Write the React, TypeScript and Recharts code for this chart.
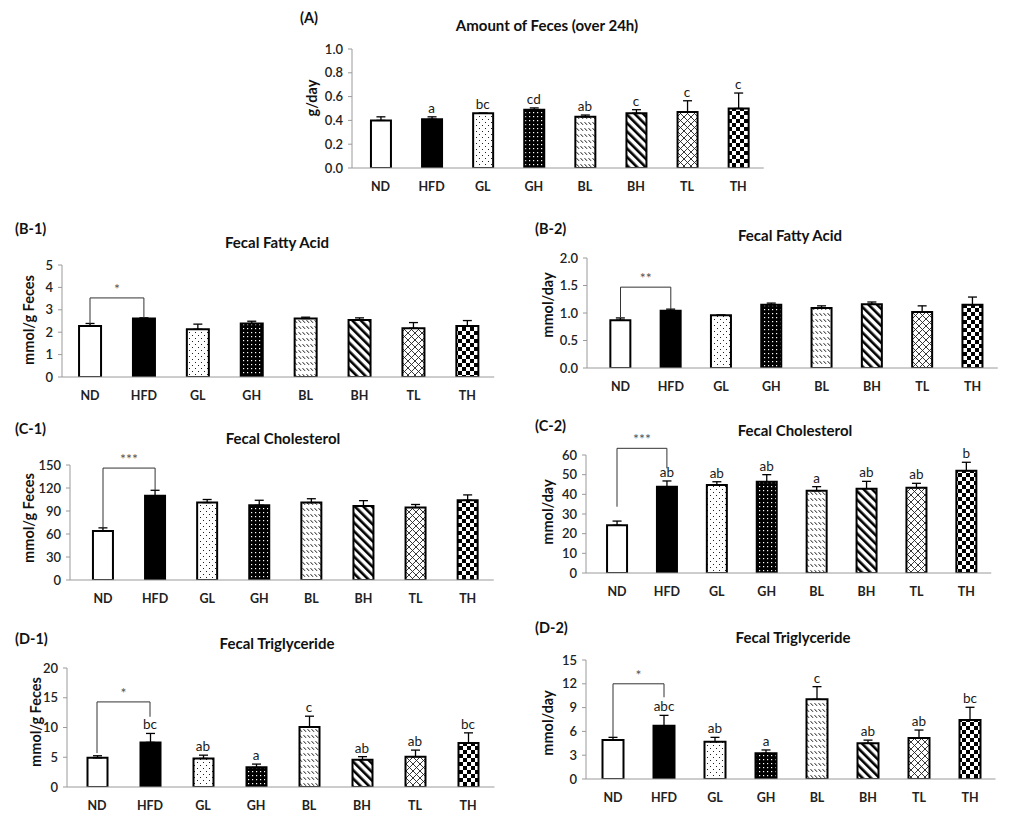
import React from 'react';
import { ComposedChart, Bar, Line, XAxis, YAxis, ErrorBar, LabelList, ReferenceLine, Cell } from 'recharts';

const groups = ['ND', 'HFD', 'GL', 'GH', 'BL', 'BH', 'TL', 'TH'];
const fillKeys = ['white', 'black', 'gl', 'gh', 'bl', 'bh', 'tl', 'th'];

// (A) Amount of feces
const aValues = [0.40, 0.41, 0.46, 0.49, 0.43, 0.46, 0.47, 0.50];
const aErrors = [0.03, 0.02, 0.0, 0.015, 0.015, 0.03, 0.095, 0.13];
const aLetters = ['', 'a', 'bc', 'cd', 'ab', 'c', 'c', 'c'];
const aTicks = [0, 0.2, 0.4, 0.6, 0.8, 1.0];

// (B-1) Fecal fatty acid, mmol/g feces
const b1Values = [2.28, 2.61, 2.13, 2.39, 2.61, 2.55, 2.18, 2.28];
const b1Errors = [0.11, 0.03, 0.23, 0.1, 0.06, 0.09, 0.25, 0.24];
const b1Letters = ['', '', '', '', '', '', '', ''];
const b1Ticks = [0, 1, 2, 3, 4, 5];
const b1Bracket = [3.53, 2.32, 2.63];
const b1Mark = '*';

// (B-2) Fecal fatty acid, mmol/day
const b2Values = [0.87, 1.04, 0.96, 1.15, 1.09, 1.16, 1.02, 1.15];
const b2Errors = [0.04, 0.03, 0.0, 0.03, 0.04, 0.04, 0.11, 0.14];
const b2Letters = ['', '', '', '', '', '', '', ''];
const b2Ticks = [0, 0.5, 1.0, 1.5, 2.0];
const b2Bracket = [1.47, 0.92, 1.07];
const b2Mark = '**';

// (C-1) Fecal cholesterol, mmol/g feces
const c1Values = [64, 110, 101, 97.5, 101, 96.5, 94.5, 104];
const c1Errors = [4, 7, 4, 6.5, 5, 7, 4, 7];
const c1Letters = ['', '', '', '', '', '', '', ''];
const c1Ticks = [0, 30, 60, 90, 120, 150];
const c1Bracket = [146, 68, 117];
const c1Mark = '***';

// (C-2) Fecal cholesterol, mmol/day
const c2Values = [24.3, 43.9, 44.7, 46.4, 41.8, 42.9, 43.4, 52.0];
const c2Errors = [2.1, 2.9, 1.7, 3.6, 2.1, 3.7, 2.2, 4.3];
const c2Letters = ['', 'ab', 'ab', 'ab', 'a', 'ab', 'ab', 'b'];
const c2Ticks = [0, 10, 20, 30, 40, 50, 60];
const c2Bracket = [63.4, 33.7, 53.2];
const c2Mark = '***';

// (D-1) Fecal triglyceride, mmol/g feces
const d1Values = [4.9, 7.5, 4.8, 3.3, 10.1, 4.6, 5.1, 7.4];
const d1Errors = [0.35, 1.5, 0.55, 0.55, 1.8, 0.5, 1.1, 1.7];
const d1Letters = ['', 'bc', 'ab', 'a', 'c', 'ab', 'ab', 'bc'];
const d1Ticks = [0, 5, 10, 15, 20];
const d1Bracket = [14.3, 5.7, 11.8];
const d1Mark = '*';

// (D-2) Fecal triglyceride, mmol/day
const d2Values = [4.92, 6.72, 4.7, 3.24, 10.04, 4.5, 5.17, 7.44];
const d2Errors = [0.33, 1.3, 0.55, 0.42, 1.6, 0.4, 1.0, 1.6];
const d2Letters = ['', 'abc', 'ab', 'a', 'c', 'ab', 'ab', 'bc'];
const d2Ticks = [0, 3, 6, 9, 12, 15];
const d2Bracket = [12.0, 5.3, 10.3];
const d2Mark = '*';

const FONT = 'Lato, "Open Sans", "Noto Sans", sans-serif';

function Patterns({ pid }: { pid: string }) {
  return (
    <defs>
      <pattern id={`${pid}-gl`} width={6} height={6} patternUnits="userSpaceOnUse">
        <rect width={6} height={6} fill="#fff" />
        <rect x={1} y={1} width={1} height={1} fill="#222" />
        <rect x={4} y={4} width={1} height={1} fill="#222" />
      </pattern>
      <pattern id={`${pid}-gh`} width={4} height={4} patternUnits="userSpaceOnUse">
        <rect width={4} height={4} fill="#000" />
        <rect x={1} y={1} width={1.2} height={1.2} fill="#fff" />
      </pattern>
      <pattern id={`${pid}-bl`} width={4} height={6} patternUnits="userSpaceOnUse">
        <rect width={4} height={6} fill="#fff" />
        <line x1={0.6} y1={1.2} x2={3} y2={3.8} stroke="#111" strokeWidth={1} />
      </pattern>
      <pattern id={`${pid}-bh`} width={6} height={6} patternUnits="userSpaceOnUse" patternTransform="rotate(-45)">
        <rect width={6} height={6} fill="#fff" />
        <rect width={2.6} height={6} fill="#000" />
      </pattern>
      <pattern id={`${pid}-tl`} width={7} height={7} patternUnits="userSpaceOnUse">
        <rect width={7} height={7} fill="#fff" />
        <path d="M0,0 L7,7 M7,0 L0,7" stroke="#222" strokeWidth={0.9} />
      </pattern>
      <pattern id={`${pid}-th`} width={8} height={8} patternUnits="userSpaceOnUse">
        <rect width={8} height={8} fill="#fff" />
        <rect width={4} height={4} fill="#000" />
        <rect x={4} y={4} width={4} height={4} fill="#000" />
      </pattern>
    </defs>
  );
}

function fillFor(pid: string, key: string) {
  if (key === 'white') return '#fff';
  if (key === 'black') return '#000';
  return `url(#${pid}-${key})`;
}

type PanelCfg = {
  pid: string;
  axisX: number;
  firstCenter: number;
  spacing: number;
  top: number;
  bottom: number;
  barSize: number;
  values: number[];
  errors: number[];
  letters: string[];
  ticks: number[];
  decimals: number;
  ylabel: string;
  ylabelX: number;
  ylabelY: number;
  title: string;
  titleX: number;
  titleY: number;
  tag: string;
  tagX: number;
  tagY: number;
  bracket?: number[];
  mark?: string;
};

function Panel({ cfg }: { cfg: PanelCfg }) {
  const YW = 60, MT = 30, XH = 34, MR = 8;
  const padLeft = cfg.firstCenter - cfg.spacing / 2 - cfg.axisX;
  const plotW = padLeft + 8 * cfg.spacing;
  const plotH = cfg.bottom - cfg.top;
  const data = groups.map((g, i) => ({
    name: g,
    value: cfg.values[i],
    err: [0, cfg.errors[i]],
    top: cfg.values[i] + cfg.errors[i],
    letter: cfg.letters[i],
  }));
  const max = cfg.ticks[cfg.ticks.length - 1];
  const b = cfg.bracket;
  return (
    <>
      <div style={{ position: 'absolute', left: cfg.axisX - YW, top: cfg.top - MT }}>
        <ComposedChart
          width={YW + plotW + MR}
          height={MT + plotH + XH}
          data={data}
          margin={{ top: MT, right: MR, bottom: 0, left: 0 }}
        >
          <Patterns pid={cfg.pid} />
          <XAxis
            dataKey="name"
            interval={0}
            tickLine={false}
            axisLine={{ stroke: '#9a9a9a' }}
            padding={{ left: padLeft, right: 0 }}
            height={XH}
            tickMargin={8}
            tick={{ fontSize: 12.5, fontWeight: 700, fill: '#222', fontFamily: FONT }}
          />
          <YAxis
            width={YW}
            domain={[0, max]}
            ticks={cfg.ticks}
            interval={0}
            allowDataOverflow
            tickSize={4}
            tickMargin={5}
            axisLine={{ stroke: '#9a9a9a' }}
            tickLine={{ stroke: '#9a9a9a' }}
            tickFormatter={(v: number) => v.toFixed(cfg.decimals)}
            tick={{ fontSize: 13, fontWeight: 600, fill: '#222', fontFamily: FONT }}
          />
          <Bar dataKey="value" barSize={cfg.barSize} stroke="#000" strokeWidth={2} isAnimationActive={false}>
            {data.map((d, i) => (
              <Cell key={d.name} fill={fillFor(cfg.pid, fillKeys[i])} />
            ))}
            <ErrorBar dataKey="err" width={4.5} stroke="#000" strokeWidth={1.3} direction="y" />
          </Bar>
          <Line
            dataKey="top"
            stroke="none"
            dot={false}
            activeDot={false}
            isAnimationActive={false}
            legendType="none"
          >
            <LabelList
              dataKey="letter"
              position="top"
              offset={4}
              style={{ fontSize: 13.5, fill: '#1a1a1a', fontFamily: FONT }}
            />
          </Line>
          {b && (
            <ReferenceLine
              segment={[{ x: 'ND', y: b[0] }, { x: 'HFD', y: b[0] }]}
              stroke="#333"
              strokeWidth={1}
              ifOverflow="visible"
              label={{ value: cfg.mark, position: 'top', offset: 4, fontSize: 14, fill: '#555', fontFamily: FONT }}
            />
          )}
          {b && (
            <ReferenceLine
              segment={[{ x: 'ND', y: b[1] }, { x: 'ND', y: b[0] }]}
              stroke="#333"
              strokeWidth={1}
              ifOverflow="visible"
            />
          )}
          {b && (
            <ReferenceLine
              segment={[{ x: 'HFD', y: b[2] }, { x: 'HFD', y: b[0] }]}
              stroke="#333"
              strokeWidth={1}
              ifOverflow="visible"
            />
          )}
        </ComposedChart>
      </div>
      <div
        style={{
          position: 'absolute',
          left: cfg.titleX,
          top: cfg.titleY,
          transform: 'translate(-50%, -50%)',
          whiteSpace: 'nowrap',
          fontFamily: FONT,
          fontWeight: 700,
          fontSize: 15,
          color: '#111',
        }}
      >
        {cfg.title}
      </div>
      <div
        style={{
          position: 'absolute',
          left: cfg.tagX,
          top: cfg.tagY,
          transform: 'translate(0, -50%)',
          whiteSpace: 'nowrap',
          fontFamily: FONT,
          fontWeight: 700,
          fontSize: 14.5,
          color: '#111',
        }}
      >
        {cfg.tag}
      </div>
      <div
        style={{
          position: 'absolute',
          left: cfg.ylabelX,
          top: cfg.ylabelY,
          transform: 'translate(-50%, -50%) rotate(-90deg)',
          whiteSpace: 'nowrap',
          fontFamily: FONT,
          fontWeight: 700,
          fontSize: 14.5,
          color: '#111',
        }}
      >
        {cfg.ylabel}
      </div>
    </>
  );
}

const panels: PanelCfg[] = [
  {
    pid: 'pa', axisX: 352, firstCenter: 380.5, spacing: 51.1, top: 49, bottom: 168, barSize: 20,
    values: aValues, errors: aErrors, letters: aLetters, ticks: aTicks, decimals: 1,
    ylabel: 'g/day', ylabelX: 311, ylabelY: 98,
    title: 'Amount of Feces (over 24h)', titleX: 547, titleY: 25, tag: '(A)', tagX: 300, tagY: 17,
  },
  {
    pid: 'pb1', axisX: 62, firstCenter: 90, spacing: 53.9, top: 265, bottom: 377, barSize: 22,
    values: b1Values, errors: b1Errors, letters: b1Letters, ticks: b1Ticks, decimals: 0,
    ylabel: 'mmol/g Feces', ylabelX: 28, ylabelY: 320,
    title: 'Fecal Fatty Acid', titleX: 277, titleY: 242, tag: '(B-1)', tagX: 15, tagY: 228,
    bracket: b1Bracket, mark: b1Mark,
  },
  {
    pid: 'pb2', axisX: 587, firstCenter: 620.5, spacing: 50.3, top: 258, bottom: 368, barSize: 20,
    values: b2Values, errors: b2Errors, letters: b2Letters, ticks: b2Ticks, decimals: 1,
    ylabel: 'mmol/day', ylabelX: 547, ylabelY: 305,
    title: 'Fecal Fatty Acid', titleX: 790, titleY: 235, tag: '(B-2)', tagX: 535, tagY: 228,
    bracket: b2Bracket, mark: b2Mark,
  },
  {
    pid: 'pc1', axisX: 70, firstCenter: 103, spacing: 52.1, top: 465, bottom: 580, barSize: 20,
    values: c1Values, errors: c1Errors, letters: c1Letters, ticks: c1Ticks, decimals: 0,
    ylabel: 'mmol/g Feces', ylabelX: 28, ylabelY: 518,
    title: 'Fecal Cholesterol', titleX: 283, titleY: 438, tag: '(C-1)', tagX: 15, tagY: 428,
    bracket: c1Bracket, mark: c1Mark,
  },
  {
    pid: 'pc2', axisX: 586, firstCenter: 617, spacing: 49.9, top: 455, bottom: 573, barSize: 20,
    values: c2Values, errors: c2Errors, letters: c2Letters, ticks: c2Ticks, decimals: 0,
    ylabel: 'mmol/day', ylabelX: 547, ylabelY: 512,
    title: 'Fecal Cholesterol', titleX: 795, titleY: 430, tag: '(C-2)', tagX: 535, tagY: 425,
    bracket: c2Bracket, mark: c2Mark,
  },
  {
    pid: 'pd1', axisX: 67, firstCenter: 97, spacing: 53, top: 668, bottom: 787, barSize: 20,
    values: d1Values, errors: d1Errors, letters: d1Letters, ticks: d1Ticks, decimals: 0,
    ylabel: 'mmol/g Feces', ylabelX: 35, ylabelY: 722,
    title: 'Fecal Triglyceride', titleX: 277, titleY: 643, tag: '(D-1)', tagX: 15, tagY: 638,
    bracket: d1Bracket, mark: d1Mark,
  },
  {
    pid: 'pd2', axisX: 586, firstCenter: 613, spacing: 51, top: 660, bottom: 779, barSize: 21,
    values: d2Values, errors: d2Errors, letters: d2Letters, ticks: d2Ticks, decimals: 0,
    ylabel: 'mmol/day', ylabelX: 547, ylabelY: 723,
    title: 'Fecal Triglyceride', titleX: 793, titleY: 637, tag: '(D-2)', tagX: 535, tagY: 627,
    bracket: d2Bracket, mark: d2Mark,
  },
];

export default function App() {
  return (
    <div
      style={{
        position: 'absolute',
        left: 0,
        top: 0,
        width: 1014,
        height: 821,
        background: '#fff',
        overflow: 'hidden',
      }}
    >
      {panels.map((p) => (
        <Panel key={p.pid} cfg={p} />
      ))}
    </div>
  );
}
